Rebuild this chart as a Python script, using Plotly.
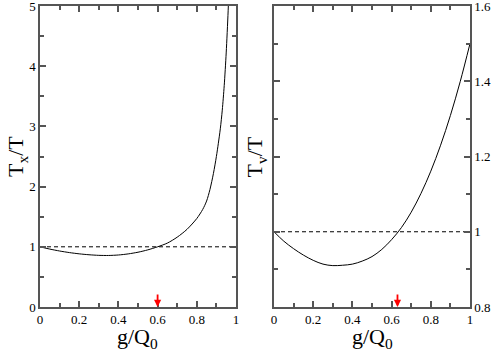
import plotly.graph_objects as go

# left panel: T_x / T versus g/Q0
gx = [0.0, 0.05, 0.1, 0.15, 0.2, 0.25, 0.3, 0.35, 0.4, 0.45, 0.5, 0.55, 0.6,
      0.65, 0.7, 0.75, 0.8, 0.83, 0.85, 0.867, 0.885, 0.9, 0.91, 0.92, 0.93, 0.94, 0.95, 0.96, 0.97]
tx = [1.0, 0.962, 0.93, 0.904, 0.883, 0.868, 0.858, 0.856, 0.864, 0.882, 0.91, 0.949, 1.0,
      1.062, 1.16, 1.29, 1.47, 1.62, 1.76, 1.95, 2.22, 2.5, 2.72, 2.96, 3.27, 3.68, 4.22, 4.92, 5.85]

# right panel: T_v / T versus g/Q0
gv = [0.0, 0.05, 0.1, 0.15, 0.2, 0.25, 0.3, 0.35, 0.4, 0.45, 0.5, 0.55, 0.6, 0.65,
      0.7, 0.75, 0.8, 0.85, 0.9, 0.95, 1.0]
tv = [1.0, 0.975, 0.955, 0.938, 0.924, 0.914, 0.91, 0.911, 0.914, 0.922, 0.934, 0.953, 0.979, 1.011,
      1.052, 1.102, 1.161, 1.23, 1.309, 1.399, 1.5]

ref_x = [0.0, 1.0]
ref_y = [1.0, 1.0]

arrow_left = 0.6
arrow_right = 0.63

xticks = [0, 0.2, 0.4, 0.6, 0.8, 1]
xtick_text = ["0", "0.2", "0.4", "0.6", "0.8", "1"]
ytick_left = [0, 1, 2, 3, 4, 5]
ytick_right = [0.8, 1.0, 1.2, 1.4, 1.6]
ytick_right_text = ["0.8", "1", "1.2", "1.4", "1.6"]

serif = "Liberation Serif, Times New Roman, serif"
frame = "#555555"
title_font = dict(family=serif, size=22, color="black")

fig = go.Figure()
fig.add_trace(go.Scatter(x=gx, y=tx, mode="lines",
                         line=dict(color="black", width=1, shape="spline", smoothing=0.8),
                         xaxis="x", yaxis="y", showlegend=False))
fig.add_trace(go.Scatter(x=ref_x, y=ref_y, mode="lines", line=dict(color="black", width=1, dash="4px,3px"),
                         xaxis="x", yaxis="y", showlegend=False))
fig.add_trace(go.Scatter(x=gv, y=tv, mode="lines", line=dict(color="black", width=1, shape="spline"),
                         xaxis="x2", yaxis="y2", showlegend=False))
fig.add_trace(go.Scatter(x=ref_x, y=ref_y, mode="lines", line=dict(color="black", width=1, dash="4px,3px"),
                         xaxis="x2", yaxis="y2", showlegend=False))


def axis_style(**kw):
    d = dict(showgrid=False, zeroline=False, showline=True, linecolor=frame, linewidth=1.5,
             mirror="ticks", ticks="inside", ticklen=6, tickwidth=1.5, tickcolor=frame,
             automargin=False, ticklabeloverflow="allow",
             tickfont=dict(family=serif, size=13, color="black"))
    d.update(kw)
    return d


fig.update_layout(
    width=491, height=351,
    margin=dict(l=40, r=21, t=6, b=44),
    paper_bgcolor="white", plot_bgcolor="white",
    xaxis=axis_style(domain=[0, 0.4558], range=[0, 1], tickvals=xticks, ticktext=xtick_text,
                     minor=dict(ticks="inside", dtick=0.1, ticklen=4, tickcolor=frame)),
    yaxis=axis_style(range=[0, 5], tickvals=ytick_left, anchor="x",
                     minor=dict(ticks="inside", dtick=0.5, ticklen=4, tickcolor=frame)),
    xaxis2=axis_style(domain=[0.5442, 1], range=[0, 1], tickvals=xticks, ticktext=xtick_text,
                      anchor="y2",
                      minor=dict(ticks="inside", dtick=0.1, ticklen=4, tickcolor=frame)),
    yaxis2=axis_style(range=[0.8, 1.6], tickvals=ytick_right, ticktext=ytick_right_text,
                      anchor="x2", side="right",
                      minor=dict(ticks="inside", dtick=0.1, ticklen=4, tickcolor=frame)),
)

# the red arrows above the crossing points
for xr, ax_x, ax_y, ymin in [(arrow_left, "x", "y", 0), (arrow_right, "x2", "y2", 0.8)]:
    fig.add_annotation(x=xr, y=ymin, xref=ax_x, yref=ax_y, ax=0, ay=-14, showarrow=True,
                       arrowhead=2, arrowsize=0.8, arrowwidth=1.8, arrowcolor="red", text="")

# axis titles as annotations so they can be placed like the original
for xa, ya, ytitle in [("x", "y", "T<sub>x</sub>/T"), ("x2", "y2", "T<sub>v</sub>/T")]:
    fig.add_annotation(x=0.5, y=-0.104, xref=xa + " domain", yref=ya + " domain", text="g/Q<sub>0</sub>",
                       xanchor="center", yanchor="middle", showarrow=False, font=title_font)
    fig.add_annotation(x=-0.12 if xa == "x" else -0.092, y=0.5, xref=xa + " domain",
                       yref=ya + " domain", text=ytitle, xanchor="center", yanchor="middle",
                       showarrow=False, textangle=-90, font=title_font)

# page body has an 8px default margin, drop it so the figure sits at the corner
fig.write_html("out.html", config={"displayModeBar": False},
               post_script="document.body.style.margin='0';")
